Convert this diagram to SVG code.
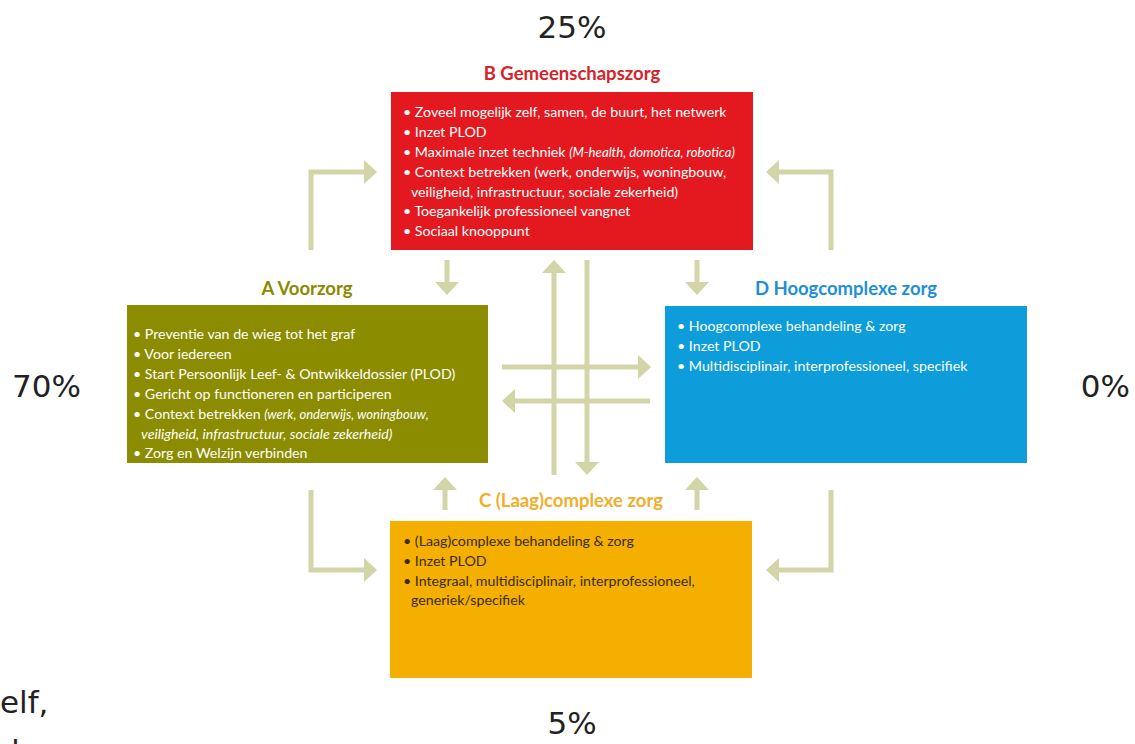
<svg xmlns="http://www.w3.org/2000/svg" width="1135" height="744" viewBox="0 0 1135 744">
<defs>
<marker id="ah" markerUnits="userSpaceOnUse" markerWidth="13" markerHeight="24" refX="0" refY="12" orient="auto" overflow="visible">
<path d="M0,0 L13,12 L0,24 z" fill="#d4d4a9"/>
</marker>
</defs>
<style>
.bt{font-family:Lato,"Open Sans",sans-serif;font-size:14.2px;fill:#ffffff}
.ct{font-family:Lato,"Open Sans",sans-serif;font-size:14.2px;fill:#3a2c05}
.title{font-family:Lato,"Open Sans",sans-serif;font-weight:bold;font-size:18.5px;text-anchor:middle}
.pct{font-family:"DejaVu Sans",Verdana,sans-serif;font-size:31px;fill:#222222}
.arr{stroke:#d4d4a9;stroke-width:5;fill:none;marker-end:url(#ah)}
.it{font-style:italic}
</style>
<rect width="1135" height="744" fill="#ffffff"/>

<text class="pct" x="572" y="38" text-anchor="middle">25%</text>
<text class="pct" x="12" y="397">70%</text>
<text class="pct" x="1130" y="397" text-anchor="end">0%</text>
<text class="pct" x="572" y="734" text-anchor="middle">5%</text>
<text class="pct" x="0" y="713">elf,</text>
<text class="pct" x="0" y="762">d</text>

<g id="connectors">
<path class="arr" d="M311,250 V172 H364"/>
<path class="arr" d="M311,490 V570 H364"/>
<path class="arr" d="M831,250 V172 H779"/>
<path class="arr" d="M831,490 V570 H779"/>
<path class="arr" d="M447,260 V282"/>
<path class="arr" d="M697,260 V282"/>
<path class="arr" d="M445,510 V490"/>
<path class="arr" d="M697,510 V490"/>
<path class="arr" d="M554,475 V273"/>
<path class="arr" d="M587,260 V462"/>
<path class="arr" d="M502,367 H638"/>
<path class="arr" d="M650,401 H515"/>
</g>

<g id="nodeB">
<text class="title" x="572" y="80" fill="#d6232a">B Gemeenschapszorg</text>
<rect x="391" y="92" width="362" height="158" fill="#e3191f"/>
<text class="bt" x="403" y="117">• Zoveel mogelijk zelf, samen, de buurt, het netwerk</text>
<text class="bt" x="403" y="137">• Inzet PLOD</text>
<text class="bt" x="403" y="157">• Maximale inzet techniek <tspan class="it" font-size="13.2px">(M-health, domotica, robotica)</tspan></text>
<text class="bt" x="403" y="177">• Context betrekken (werk, onderwijs, woningbouw,</text>
<text class="bt" x="411" y="197">veiligheid, infrastructuur, sociale zekerheid)</text>
<text class="bt" x="403" y="216">• Toegankelijk professioneel vangnet</text>
<text class="bt" x="403" y="236">• Sociaal knooppunt</text>
</g>

<g id="nodeA">
<text class="title" x="307" y="295" fill="#8a8a00">A Voorzorg</text>
<rect x="127" y="305" width="361" height="158" fill="#8c8c00"/>
<text class="bt" x="133" y="339">• Preventie van de wieg tot het graf</text>
<text class="bt" x="133" y="359">• Voor iedereen</text>
<text class="bt" x="133" y="379">• Start Persoonlijk Leef- &amp; Ontwikkeldossier (PLOD)</text>
<text class="bt" x="133" y="399">• Gericht op functioneren en participeren</text>
<text class="bt" x="133" y="419">• Context betrekken <tspan class="it" font-size="13px">(werk, onderwijs, woningbouw,</tspan></text>
<text class="bt it" x="141" y="439" font-size="13px">veiligheid, infrastructuur, sociale zekerheid)</text>
<text class="bt" x="133" y="458">• Zorg en Welzijn verbinden</text>
</g>

<g id="nodeD">
<text class="title" x="846" y="295" fill="#1e8fd6">D Hoogcomplexe zorg</text>
<rect x="665" y="306" width="362" height="157" fill="#0d9ddb"/>
<text class="bt" x="677" y="331">• Hoogcomplexe behandeling &amp; zorg</text>
<text class="bt" x="677" y="351">• Inzet PLOD</text>
<text class="bt" x="677" y="371">• Multidisciplinair, interprofessioneel, specifiek</text>
</g>

<g id="nodeC">
<text class="title" x="571" y="507" fill="#f2ae2a">C (Laag)complexe zorg</text>
<rect x="390" y="521" width="362" height="157" fill="#f5af00"/>
<text class="ct" x="403" y="546">• (Laag)complexe behandeling &amp; zorg</text>
<text class="ct" x="403" y="566">• Inzet PLOD</text>
<text class="ct" x="403" y="586">• Integraal, multidisciplinair, interprofessioneel,</text>
<text class="ct" x="411" y="605">generiek/specifiek</text>
</g>
</svg>
